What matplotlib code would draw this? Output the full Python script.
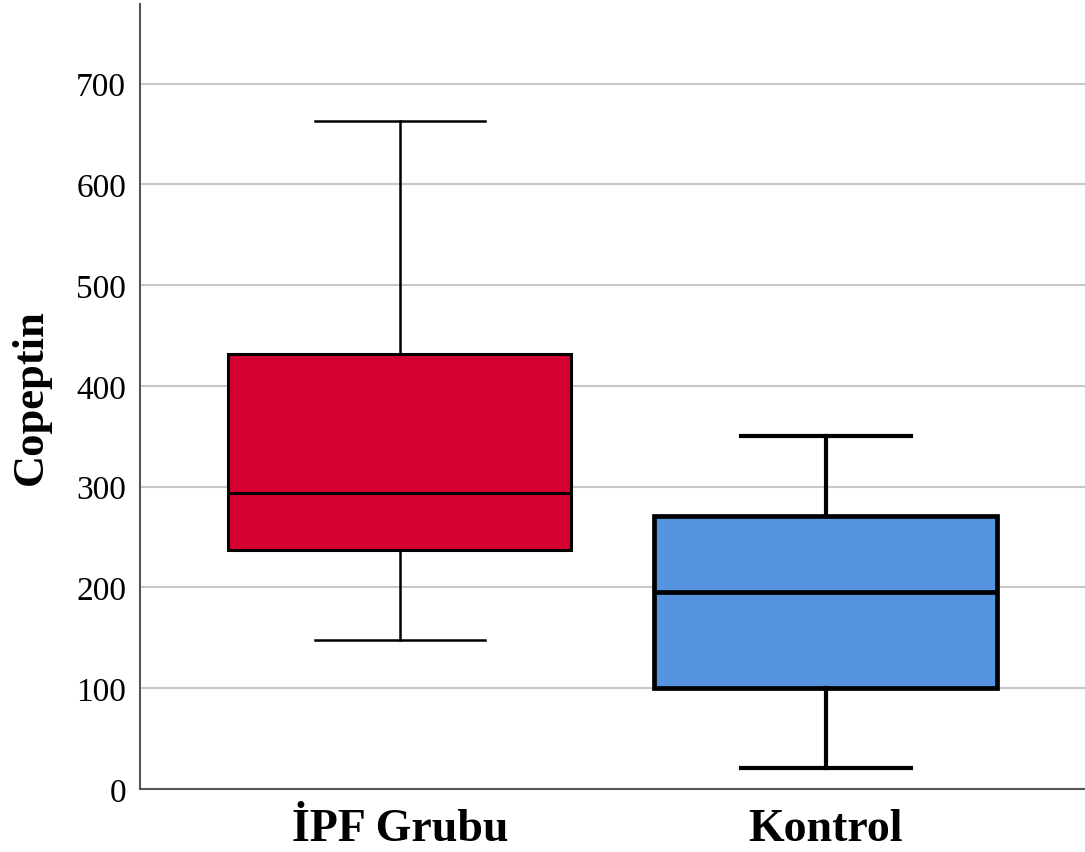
import matplotlib.pyplot as plt

plt.rcParams['font.family'] = ['Liberation Serif', 'DejaVu Serif']

# Box plot summary values per group
groups = ["İPF Grubu", "Kontrol"]
whisker_low = [148, 21]
q1 = [237, 100]
median = [294, 195]
q3 = [432, 271]
whisker_high = [663, 350]
fill_colors = ["#D50032", "#5694E0"]
line_widths = [1.8, 3.0]

stats = []
for i, name in enumerate(groups):
    stats.append({
        "label": name,
        "whislo": whisker_low[i],
        "q1": q1[i],
        "med": median[i],
        "q3": q3[i],
        "whishi": whisker_high[i],
        "fliers": [],
    })

fig = plt.figure(figsize=(10.85, 8.53), dpi=100)
ax = fig.add_axes([0.129, 0.074, 0.871, 0.92])

for i, s in enumerate(stats):
    lw = line_widths[i]
    ax.bxp([s], positions=[i + 1], widths=0.805, patch_artist=True,
           showfliers=False, capwidths=0.40,
           boxprops=dict(facecolor=fill_colors[i], edgecolor="black", linewidth=lw + 0.4),
           medianprops=dict(color="black", linewidth=lw + 0.4),
           whiskerprops=dict(color="black", linewidth=lw),
           capprops=dict(color="black", linewidth=lw),
           zorder=3)

ax.set_xlim(0.39, 2.608)
ax.set_ylim(0, 779)
ax.set_yticks(range(0, 800, 100))
ax.set_xticks([1, 2])
ax.set_xticklabels(groups, fontsize=33, fontweight="bold")
ax.tick_params(axis="both", length=0)
ax.tick_params(axis="y", labelsize=24, pad=10)
ax.tick_params(axis="x", pad=14)
ax.set_ylabel("Copeptin", fontsize=32, fontweight="bold", labelpad=18)

ax.yaxis.grid(True, color="#C8C8C8", linewidth=1.5, zorder=0)
ax.set_axisbelow(True)
for side in ["top", "right"]:
    ax.spines[side].set_visible(False)
for side in ["left", "bottom"]:
    ax.spines[side].set_color("#555555")
    ax.spines[side].set_linewidth(1.5)

fig.savefig("out.png", dpi=100)
